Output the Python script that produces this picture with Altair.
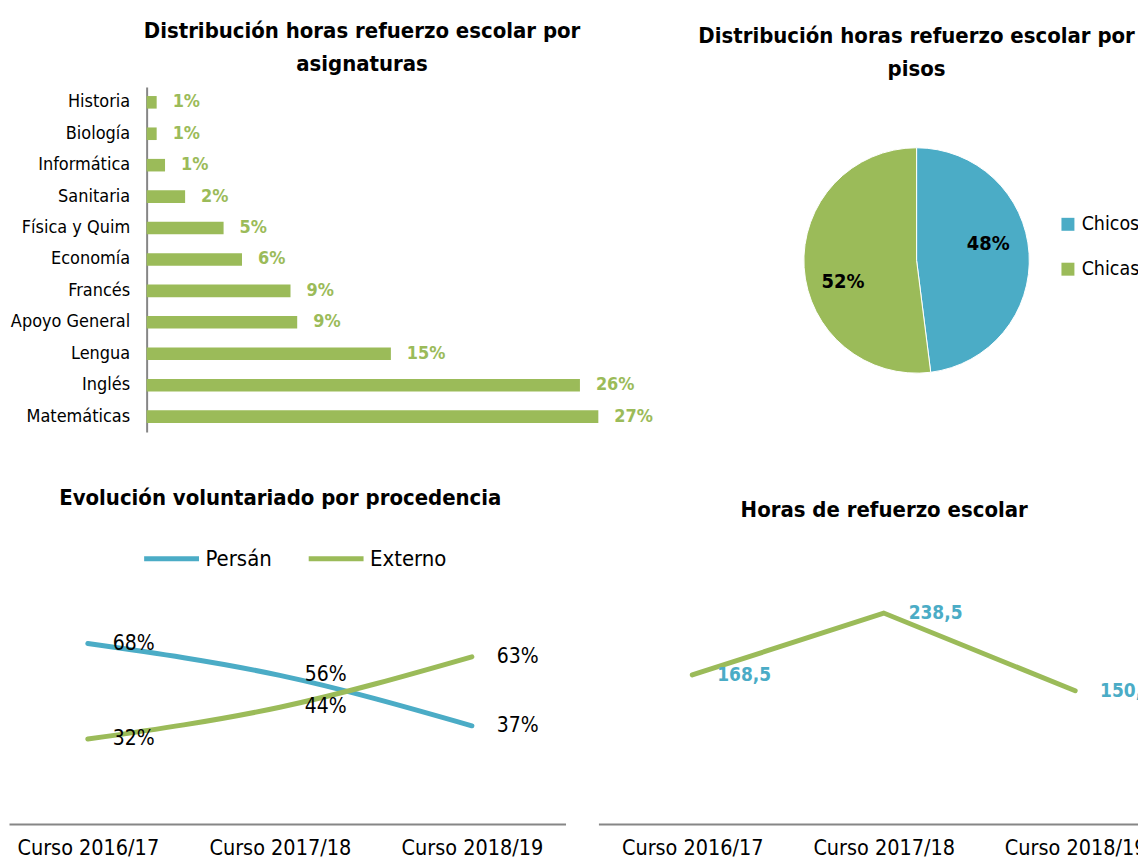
import altair as alt
import pandas as pd

FONT = "DejaVu Sans Condensed"
BLUE = "#4BACC6"
GREEN = "#9BBB59"
AXIS_GRAY = "#868686"

# ---------------- data ----------------
subjects = ["Historia", "Biología", "Informática", "Sanitaria", "Física y Quim",
            "Economía", "Francés", "Apoyo General", "Lengua", "Inglés", "Matemáticas"]
subject_share = [0.6, 0.6, 1.1, 2.3, 4.6, 5.7, 8.6, 9.0, 14.6, 25.9, 27.0]

pie_groups = ["Chicos", "Chicas"]
pie_share = [48, 52]

courses = ["Curso 2016/17", "Curso 2017/18", "Curso 2018/19"]
series_names = ["Persán", "Externo"]
persan = [68, 56, 37]
externo = [32, 44, 63]
hours = [168.5, 238.5, 150.6]


def title(lines, offset, dx=0):
    return alt.TitleParams(text=lines, font=FONT, fontSize=22, fontWeight="bold",
                           color="black", anchor="middle", frame="group",
                           offset=offset, lineHeight=33, dx=dx)


# ---------------- bar chart ----------------
LABEL_ZONE = 138  # room kept inside the view for the category labels
bar_df = pd.DataFrame({"asignatura": subjects, "pct": subject_share})
bar_base = alt.Chart(bar_df).transform_calculate(
    label="format(datum.pct, '.0f') + '%'"
).encode(
    y=alt.Y("asignatura:N", sort=subjects,
            scale=alt.Scale(paddingInner=0.6, paddingOuter=0.29),
            axis=alt.Axis(title=None, ticks=False, domainColor=AXIS_GRAY, domainWidth=2,
                          labelFont=FONT, labelFontSize=18, labelColor="black",
                          labelPadding=17, offset=-LABEL_ZONE)),
    x=alt.X("pct:Q", scale=alt.Scale(domain=[0, 31], range=[LABEL_ZONE, LABEL_ZONE + 520]),
            axis=None),
)
bars = bar_base.mark_bar(color=GREEN)
bar_labels = bar_base.mark_text(align="left", baseline="middle", dx=16, font=FONT,
                                fontSize=18, fontWeight="bold", color=GREEN).encode(text="label:N")
bar_chart = alt.layer(bars, bar_labels).properties(
    width=LABEL_ZONE + 520, height=346,
    title=title(["Distribución horas refuerzo escolar por", "asignaturas"], 11, dx=25),
)

# ---------------- pie chart ----------------
pie_df = pd.DataFrame({"grupo": pie_groups, "pct": pie_share, "orden": list(range(len(pie_groups)))})
theta_scale = alt.Scale(domain=[0, 100])
arcs = alt.Chart(pie_df).mark_arc(outerRadius=113, stroke="white", strokeWidth=1).encode(
    theta=alt.Theta("pct:Q", stack=True, scale=theta_scale),
    order=alt.Order("orden:Q"),
    color=alt.Color("grupo:N", scale=alt.Scale(domain=pie_groups, range=[BLUE, GREEN]),
                    legend=alt.Legend(title=None, orient="none", legendX=362, legendY=128,
                                      symbolType="square", symbolSize=169, symbolStrokeWidth=0,
                                      labelFont=FONT, labelFontSize=19.5, labelColor="black",
                                      labelOffset=4, rowPadding=24)),
)


def pie_label(group, dx, dy):
    return alt.Chart(pie_df).transform_window(
        cum="sum(pct)", sort=[alt.SortField("orden")]
    ).transform_calculate(
        mid="datum.cum - datum.pct / 2", label="datum.pct + '%'"
    ).transform_filter(
        alt.datum.grupo == group
    ).mark_text(radius=72, dx=dx, dy=dy, font=FONT, fontSize=20, fontWeight="bold",
                color="black").encode(
        theta=alt.Theta("mid:Q", scale=theta_scale),
        text="label:N",
    )


pie_chart = alt.layer(arcs, pie_label(pie_groups[0], 0, -12), pie_label(pie_groups[1], -2, 17)).properties(
    width=440, height=348,
    title=title(["Distribución horas refuerzo escolar por", "pisos"], 6),
)

# ---------------- line chart 1 ----------------
line_df = pd.DataFrame({
    "curso": courses * 2,
    "serie": [series_names[0]] * len(courses) + [series_names[1]] * len(courses),
    "pct": persan + externo,
})
x_axis = alt.Axis(title=None, ticks=False, domainColor=AXIS_GRAY, domainWidth=2, labelAngle=0,
                  labelFont=FONT, labelFontSize=21.5, labelColor="black", labelPadding=14,
                  grid=False)
line_base = alt.Chart(line_df).transform_calculate(
    label="datum.pct + '%'"
).encode(
    x=alt.X("curso:N", sort=courses,
            scale=alt.Scale(type="point", padding=0.449, align=0.457), axis=x_axis),
    y=alt.Y("pct:Q", scale=alt.Scale(domain=[0, 100]), axis=None),
)
lines1 = line_base.mark_line(strokeWidth=5, strokeCap="round", interpolate="monotone").encode(
    color=alt.Color("serie:N", scale=alt.Scale(domain=series_names, range=[BLUE, GREEN]),
                    legend=alt.Legend(title=None, orient="none", legendX=133, legendY=-30,
                                      direction="horizontal", symbolType="stroke",
                                      symbolSize=3025, symbolStrokeWidth=5,
                                      labelFont=FONT, labelFontSize=22, labelColor="black",
                                      labelOffset=4, columnPadding=26))
)
labels1 = line_base.mark_text(align="left", baseline="middle", dx=25, font=FONT, fontSize=21,
                              color="black").encode(text="label:N")
line_chart1 = alt.layer(lines1, labels1).properties(
    width=558, height=266,
    title=title("Evolución voluntariado por procedencia", 19, dx=-7),
)

# ---------------- line chart 2 ----------------
hours_df = pd.DataFrame({"curso": courses, "horas": hours})
line2_base = alt.Chart(hours_df).transform_calculate(
    label="replace(format(datum.horas, '.1f'), '.', ',')"
).encode(
    x=alt.X("curso:N", sort=courses,
            scale=alt.Scale(type="point", padding=0.43, align=0.57), axis=x_axis),
    y=alt.Y("horas:Q", scale=alt.Scale(domain=[0, 300]), axis=None),
)
lines2 = line2_base.mark_line(strokeWidth=5, strokeCap="round", color=GREEN)
labels2 = line2_base.mark_text(align="left", baseline="middle", dx=25, font=FONT, fontSize=19,
                               fontWeight="bold", color=BLUE).encode(text="label:N")
line_chart2 = alt.layer(lines2, labels2).properties(
    width=549, height=266,
    title=title("Horas de refuerzo escolar", 37, dx=12),
)

row1 = alt.hconcat(bar_chart, pie_chart, spacing=31).resolve_scale(color="independent")
row2 = alt.hconcat(line_chart1, line_chart2, spacing=31).resolve_scale(color="independent")

chart = alt.vconcat(row1, row2, spacing=52).resolve_scale(
    color="independent"
).properties(
    padding={"left": 0, "top": 10, "right": -17, "bottom": -3}
).configure(font=FONT).configure_view(stroke="transparent")

chart.save("out.html", embed_options={"renderer": "svg", "actions": False})
